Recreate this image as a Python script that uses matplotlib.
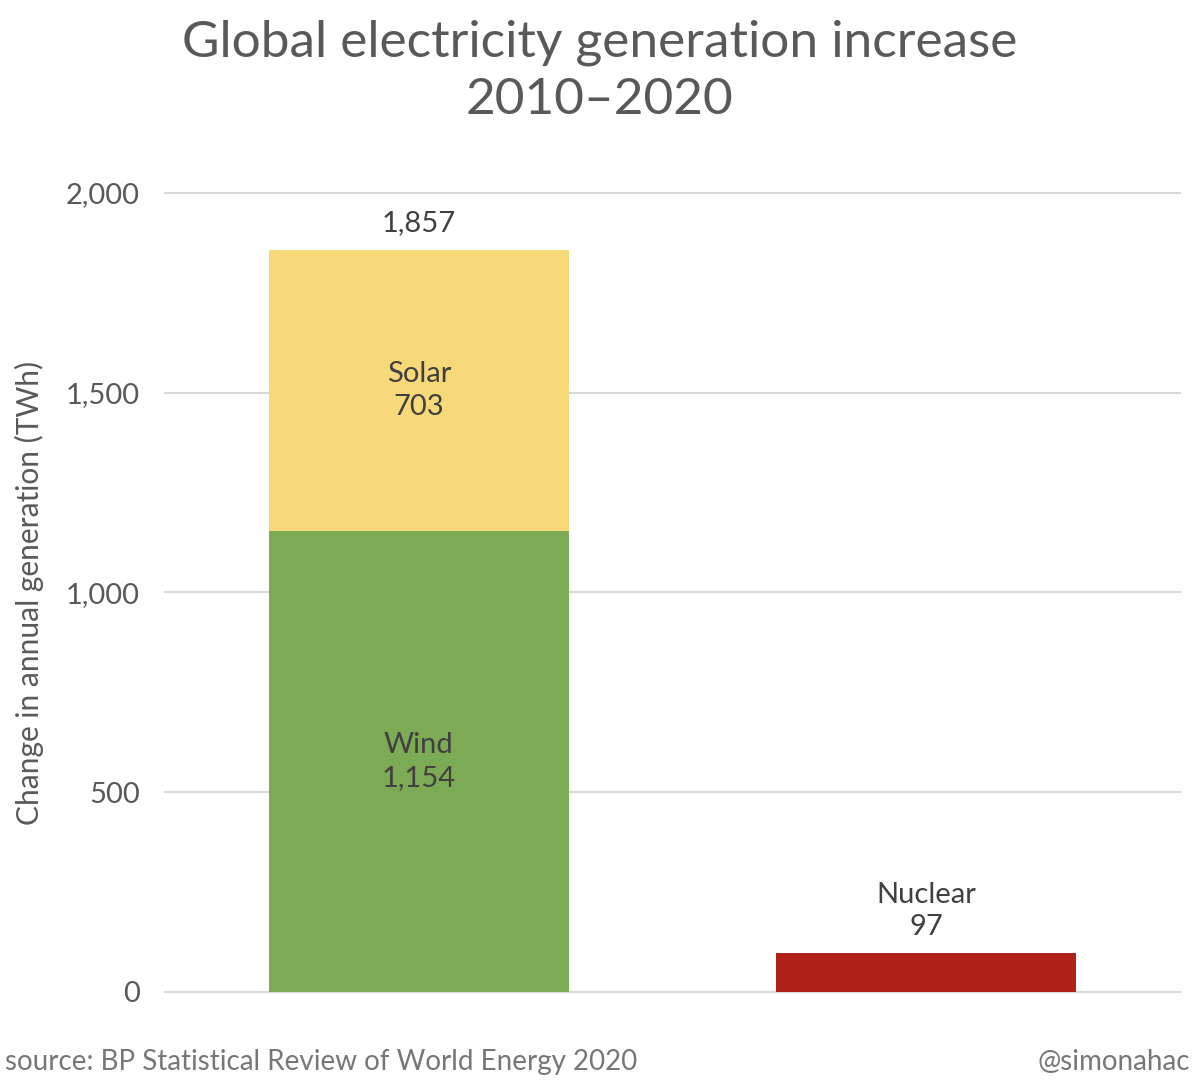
import matplotlib.pyplot as plt

plt.rcParams['font.family'] = ['Lato', 'DejaVu Sans']

categories = ["Wind + Solar", "Nuclear"]
wind = [1154, 0]
solar = [703, 0]
nuclear = [0, 97]
yticks = [0, 500, 1000, 1500, 2000]

fig = plt.figure(figsize=(12, 10.86), dpi=100)
ax = fig.add_axes([0.1375, 0.0866, 0.8458, 0.7357])

x = [0, 1]
w = 0.592
ax.bar(x[0], wind[0], width=w, color="#7DAA55", zorder=3)
ax.bar(x[0], solar[0], bottom=wind[0], width=w, color="#F8D97A", zorder=3)
ax.bar(x[1], nuclear[1], width=w, color="#AF2119", zorder=3)

txt = "#404040"
ax.text(x[0], wind[0] / 2, f"Wind\n{wind[0]:,}", ha="center", va="center",
        fontsize=21, color=txt, linespacing=1.3)
ax.text(x[0], wind[0] + solar[0] / 2, f"Solar\n{solar[0]:,}", ha="center", va="center",
        fontsize=21, color=txt, linespacing=1.3)
total = wind[0] + solar[0]
ax.text(x[0], total + 36, f"{total:,}", ha="center", va="bottom", fontsize=21, color=txt)
ax.text(x[1], nuclear[1] + 32, f"Nuclear\n{nuclear[1]}", ha="center", va="bottom",
        fontsize=21, color=txt, linespacing=1.3)

ax.set_xlim(-0.5, 1.5)
ax.set_ylim(0, 2000)
ax.set_yticks(yticks)
ax.set_yticklabels([f"{t:,}" for t in yticks])
ax.set_xticks([])
ax.tick_params(axis="y", length=0, pad=18, labelsize=21, labelcolor="#595959")
for s in ax.spines.values():
    s.set_visible(False)
ax.grid(axis="y", color="#D9D9D9", linewidth=1.5, zorder=0)
for gl in ax.get_ygridlines():
    gl.set_clip_on(False)

fig.text(29 / 1200, 1 - 593 / 1086, "Change in annual generation (TWh)", rotation=90,
         ha="center", va="center", fontsize=21.5, color="#595959")

fig.text(0.5, 1 - 71 / 1086, "Global electricity generation increase\n2010\u20132020",
         ha="center", va="center", fontsize=37, color="#595959", linespacing=1.3)

fig.text(5 / 1200, 1 - 1062 / 1086, "source: BP Statistical Review of World Energy 2020",
         ha="left", va="center", fontsize=20, color="#777777")
fig.text(1190 / 1200, 1 - 1062 / 1086, "@simonahac", ha="right", va="center",
         fontsize=20, color="#777777")

fig.savefig("out.png", dpi=100)
